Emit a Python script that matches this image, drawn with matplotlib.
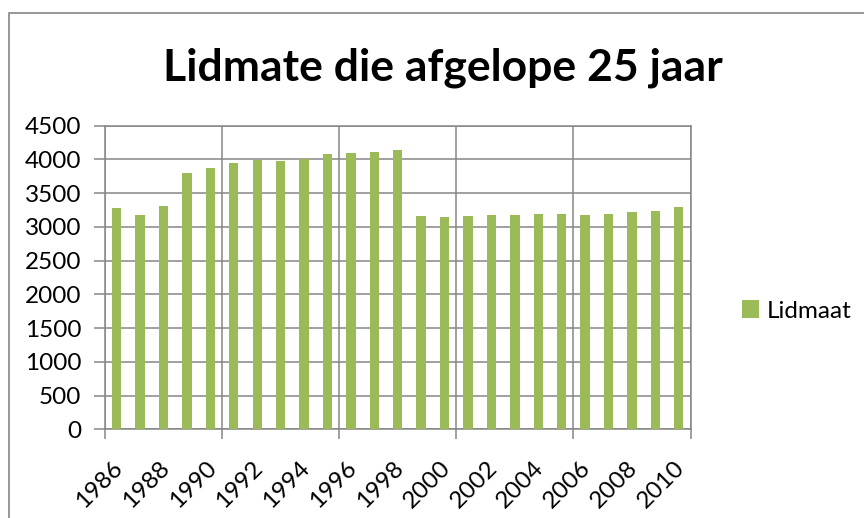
import matplotlib
matplotlib.use("Agg")
import matplotlib.pyplot as plt
from matplotlib.patches import Patch, Rectangle
from matplotlib.ticker import FixedLocator, NullFormatter, FixedFormatter
from matplotlib.transforms import ScaledTranslation

plt.rcParams['font.family'] = ['Lato', 'DejaVu Sans']

years = list(range(1986, 2011))
members = [3275, 3170, 3315, 3800, 3875, 3950, 3990, 3975, 4000, 4085,
           4095, 4105, 4140, 3160, 3150, 3160, 3170, 3180, 3190, 3190,
           3170, 3190, 3220, 3240, 3295]
series_name = "Lidmaat"
title = "Lidmate die afgelope 25 jaar"

bar_color = "#9BBB59"
grid_color = "#868686"

W, H = 864, 518
fig = plt.figure(figsize=(W / 100, H / 100), dpi=100)

# chart-area border (opens past the right and bottom edges)
fig.patches.append(Rectangle((8.5 / W, -0.1), 1.2, 1 - 13.5 / H + 0.1,
                             transform=fig.transFigure, fill=False,
                             edgecolor=grid_color, linewidth=1.2))

ax = fig.add_axes([105 / W, 1 - 429.3 / H, (690.5 - 105) / W, (429.3 - 125.7) / H])

x = list(range(len(years)))
ax.bar(x, members, width=0.4, color=bar_color, zorder=3, label=series_name)

ax.set_xlim(-0.5, len(years) - 0.5)
ax.set_ylim(0, 4500)
ax.set_yticks(range(0, 4501, 500))
ax.tick_params(axis='y', length=8, width=1.1, color=grid_color,
               labelsize=17.5, pad=9)

# vertical gridlines / ticks every five categories
ax.xaxis.set_major_locator(FixedLocator([i - 0.5 for i in range(0, len(years) + 1, 5)]))
ax.xaxis.set_major_formatter(NullFormatter())
ax.xaxis.set_minor_locator(FixedLocator(x[::2]))
ax.xaxis.set_minor_formatter(FixedFormatter([str(y) for y in years[::2]]))
ax.tick_params(axis='x', which='major', length=7, width=1.1, color=grid_color)
ax.tick_params(axis='x', which='minor', length=0, labelsize=17.5, pad=20)
shift = ScaledTranslation(-5 / 100, 0, fig.dpi_scale_trans)
for lbl in ax.get_xticklabels(minor=True):
    lbl.set_rotation(45)
    lbl.set_ha('right')
    lbl.set_va('top')
    lbl.set_rotation_mode('anchor')
    lbl.set_transform(lbl.get_transform() + shift)

ax.grid(True, which='major', axis='both', color=grid_color, linewidth=1.1, zorder=0)
ax.set_axisbelow(True)
for s in ax.spines.values():
    s.set_color(grid_color)
    s.set_linewidth(1.1)

fig.text(443 / W, 1 - 68 / H, title, ha='center', va='center',
         fontsize=32, fontweight='bold')

fig.legend(handles=[Patch(facecolor=bar_color, label=series_name)],
           loc='center left', bbox_to_anchor=(742 / W, 1 - 311 / H),
           frameon=False, fontsize=17.5, handlelength=0.7, handleheight=0.7,
           handletextpad=0.3, borderpad=0, borderaxespad=0)

fig.savefig("out.png", dpi=100)
